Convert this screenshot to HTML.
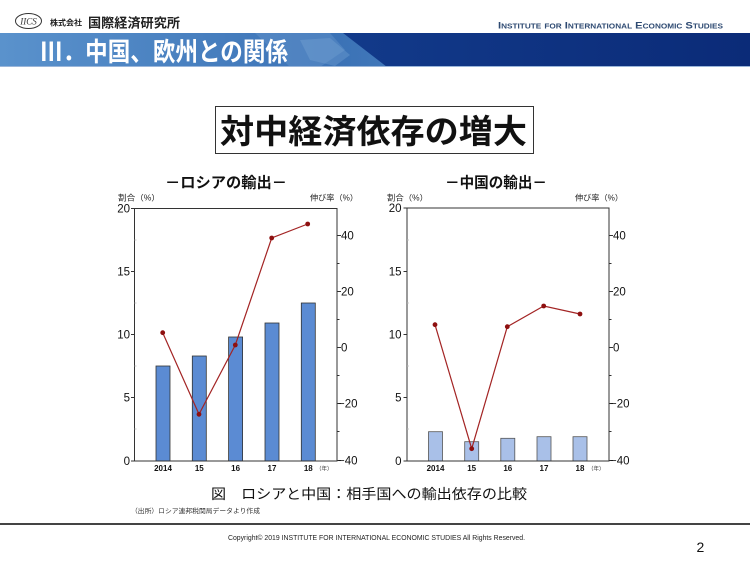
<!DOCTYPE html>
<html>
<head>
<meta charset="utf-8">
<style>
  html,body{margin:0;padding:0;background:#fff;}
  body{width:750px;height:563px;overflow:hidden;}
  svg{display:block;}
  text{font-family:"Liberation Sans","Noto Sans CJK JP",sans-serif;}
</style>
</head>
<body>
<svg width="750" height="563" viewBox="0 0 750 563" xmlns="http://www.w3.org/2000/svg">
  <defs>
    <linearGradient id="bl" x1="0" y1="0" x2="1" y2="0">
      <stop offset="0" stop-color="#5a92cc"/>
      <stop offset="0.45" stop-color="#3b72b6"/>
      <stop offset="0.8" stop-color="#5a8fc7"/>
      <stop offset="1" stop-color="#3f74b6"/>
    </linearGradient>
    <linearGradient id="bd" x1="0" y1="0" x2="1" y2="0">
      <stop offset="0" stop-color="#123a8a"/>
      <stop offset="1" stop-color="#0b2b78"/>
    </linearGradient>
  </defs>

  <!-- header -->
  <ellipse cx="28.5" cy="21" rx="13" ry="7.5" fill="none" stroke="#333" stroke-width="1"/>
  <text x="28.5" y="24.5" font-size="9" text-anchor="middle" fill="#333" style="font-family:'Liberation Serif',serif;font-style:italic">IICS</text>
  <text x="50" y="25.5" font-size="8" font-weight="bold" fill="#222" textLength="32" lengthAdjust="spacingAndGlyphs">株式会社</text>
  <text x="88" y="27.5" font-size="13" font-weight="bold" fill="#222" textLength="92" lengthAdjust="spacingAndGlyphs">国際経済研究所</text>
  <text x="498" y="28.3" font-size="9.5" font-weight="bold" fill="#2e4a72" style="font-variant:small-caps" textLength="225" lengthAdjust="spacingAndGlyphs">Institute for International Economic Studies</text>

  <!-- banner -->
  <rect x="0" y="33" width="750" height="34" fill="url(#bl)"/>
  <path d="M255 33 L330 33 L345 50 L320 67 L290 67 Z" fill="#6f9fd2" opacity="0.35"/>
  <path d="M300 40 L330 38 L350 55 L335 66 L310 60 Z" fill="#84b0dc" opacity="0.3"/>
  <polygon points="343,33 750,33 750,67 387,67" fill="url(#bd)"/>
  <rect x="0" y="66" width="750" height="1" fill="#9ab6da"/>
  <text x="40" y="61" font-size="26" font-weight="bold" fill="#fff" textLength="248" lengthAdjust="spacingAndGlyphs">Ⅲ．中国、欧州との関係</text>

  <!-- main title box -->
  <rect x="215.5" y="106.5" width="318" height="47" fill="#fff" stroke="#333" stroke-width="1"/>
  <text x="220" y="143" font-size="33" font-weight="bold" fill="#111" textLength="307" lengthAdjust="spacingAndGlyphs">対中経済依存の増大</text>

  <!-- subtitles -->
  <text x="165" y="187.5" font-size="15" font-weight="bold" fill="#111" textLength="122" lengthAdjust="spacingAndGlyphs">－ロシアの輸出－</text>
  <text x="445" y="187.5" font-size="15" font-weight="bold" fill="#111" textLength="102" lengthAdjust="spacingAndGlyphs">－中国の輸出－</text>

  <!-- ===== LEFT CHART ===== -->
  <text x="118" y="200.5" font-size="8" fill="#222" textLength="42" lengthAdjust="spacingAndGlyphs">割合（%）</text>
  <text x="310" y="200.5" font-size="8" fill="#222" textLength="48" lengthAdjust="spacingAndGlyphs">伸び率（%）</text>

  <g fill="#5b8bd3" stroke="#333" stroke-width="0.8">
    <rect x="156" y="366" width="14" height="95"/>
    <rect x="192.3" y="356" width="14" height="105"/>
    <rect x="228.6" y="337" width="14" height="124"/>
    <rect x="265" y="323" width="14" height="138"/>
    <rect x="301.3" y="303" width="14" height="158"/>
  </g>
  <rect x="134.5" y="208.5" width="202.5" height="252.5" fill="none" stroke="#333" stroke-width="1"/>
  <g stroke="#333" stroke-width="1">
    <line x1="131" y1="208.5" x2="134.5" y2="208.5"/>
    <line x1="131" y1="271.5" x2="134.5" y2="271.5"/>
    <line x1="131" y1="334.5" x2="134.5" y2="334.5"/>
    <line x1="131" y1="397.5" x2="134.5" y2="397.5"/>
    <line x1="131" y1="461" x2="134.5" y2="461"/>
    <line x1="337" y1="235.5" x2="341" y2="235.5"/>
    <line x1="337" y1="291.5" x2="341" y2="291.5"/>
    <line x1="337" y1="347.5" x2="341" y2="347.5"/>
    <line x1="337" y1="403.5" x2="341" y2="403.5"/>
    <line x1="337" y1="460.5" x2="341" y2="460.5"/>
    <line x1="337" y1="263.5" x2="339.5" y2="263.5"/>
    <line x1="337" y1="319.5" x2="339.5" y2="319.5"/>
    <line x1="337" y1="375.5" x2="339.5" y2="375.5"/>
    <line x1="337" y1="431.5" x2="339.5" y2="431.5"/>
  </g>
  <g stroke="#bbb" stroke-width="0.8">
    <line x1="134.5" y1="240" x2="136.5" y2="240"/>
    <line x1="134.5" y1="303" x2="136.5" y2="303"/>
    <line x1="134.5" y1="366" x2="136.5" y2="366"/>
    <line x1="134.5" y1="429" x2="136.5" y2="429"/>
  </g>
  <g font-size="11.5" fill="#111" text-anchor="end">
    <text x="130" y="212.5">20</text>
    <text x="130" y="275.5">15</text>
    <text x="130" y="338.5">10</text>
    <text x="130" y="401.5">5</text>
    <text x="130" y="465">0</text>
  </g>
  <g font-size="11.5" fill="#111">
    <text x="341" y="239.5">40</text>
    <text x="341" y="295.5">20</text>
    <text x="341" y="351.5">0</text>
    <text x="338" y="407.5">−20</text>
    <text x="338" y="464.5">−40</text>
  </g>
  <g font-size="8" font-weight="bold" fill="#111" text-anchor="middle">
    <text x="163" y="471">2014</text>
    <text x="199.3" y="471">15</text>
    <text x="235.6" y="471">16</text>
    <text x="272" y="471">17</text>
    <text x="308.3" y="471">18</text>
  </g>
  <text x="316" y="470.5" font-size="5.5" fill="#333">（年）</text>
  <polyline points="162.7,332.7 199,414.3 235.3,345 271.7,238 307.7,224" fill="none" stroke="#a32424" stroke-width="1.2"/>
  <g fill="#8e1010">
    <circle cx="162.7" cy="332.7" r="2.4"/>
    <circle cx="199" cy="414.3" r="2.4"/>
    <circle cx="235.3" cy="345" r="2.4"/>
    <circle cx="271.7" cy="238" r="2.4"/>
    <circle cx="307.7" cy="224" r="2.4"/>
  </g>

  <!-- ===== RIGHT CHART ===== -->
  <text x="387" y="200.5" font-size="8" fill="#222" textLength="41" lengthAdjust="spacingAndGlyphs">割合（%）</text>
  <text x="575" y="200.5" font-size="8" fill="#222" textLength="48" lengthAdjust="spacingAndGlyphs">伸び率（%）</text>

  <g fill="#a9c0e8" stroke="#555" stroke-width="0.8">
    <rect x="428.5" y="431.7" width="14" height="29.3"/>
    <rect x="464.7" y="441.7" width="14" height="19.3"/>
    <rect x="500.8" y="438.3" width="14" height="22.7"/>
    <rect x="537" y="436.7" width="14" height="24.3"/>
    <rect x="573" y="436.7" width="14" height="24.3"/>
  </g>
  <rect x="407" y="208" width="202" height="253" fill="none" stroke="#333" stroke-width="1"/>
  <g stroke="#333" stroke-width="1">
    <line x1="403.5" y1="208" x2="407" y2="208"/>
    <line x1="403.5" y1="271.5" x2="407" y2="271.5"/>
    <line x1="403.5" y1="334.5" x2="407" y2="334.5"/>
    <line x1="403.5" y1="397.5" x2="407" y2="397.5"/>
    <line x1="403.5" y1="461" x2="407" y2="461"/>
    <line x1="609" y1="235.5" x2="613" y2="235.5"/>
    <line x1="609" y1="291.5" x2="613" y2="291.5"/>
    <line x1="609" y1="347.5" x2="613" y2="347.5"/>
    <line x1="609" y1="403.5" x2="613" y2="403.5"/>
    <line x1="609" y1="460.5" x2="613" y2="460.5"/>
    <line x1="609" y1="263.5" x2="611.5" y2="263.5"/>
    <line x1="609" y1="319.5" x2="611.5" y2="319.5"/>
    <line x1="609" y1="375.5" x2="611.5" y2="375.5"/>
    <line x1="609" y1="431.5" x2="611.5" y2="431.5"/>
  </g>
  <g stroke="#bbb" stroke-width="0.8">
    <line x1="407" y1="240" x2="409" y2="240"/>
    <line x1="407" y1="303" x2="409" y2="303"/>
    <line x1="407" y1="366" x2="409" y2="366"/>
    <line x1="407" y1="429" x2="409" y2="429"/>
  </g>
  <g font-size="11.5" fill="#111" text-anchor="end">
    <text x="401.5" y="212">20</text>
    <text x="401.5" y="275.5">15</text>
    <text x="401.5" y="338.5">10</text>
    <text x="401.5" y="401.5">5</text>
    <text x="401.5" y="465">0</text>
  </g>
  <g font-size="11.5" fill="#111">
    <text x="613" y="239.5">40</text>
    <text x="613" y="295.5">20</text>
    <text x="613" y="351.5">0</text>
    <text x="610" y="407.5">−20</text>
    <text x="610" y="464.5">−40</text>
  </g>
  <g font-size="8" font-weight="bold" fill="#111" text-anchor="middle">
    <text x="435.5" y="471">2014</text>
    <text x="471.7" y="471">15</text>
    <text x="507.8" y="471">16</text>
    <text x="544" y="471">17</text>
    <text x="580" y="471">18</text>
  </g>
  <text x="588" y="470.5" font-size="5.5" fill="#333">（年）</text>
  <polyline points="435,324.7 471.7,448.7 507.3,326.7 543.7,306 580,314" fill="none" stroke="#a32424" stroke-width="1.2"/>
  <g fill="#8e1010">
    <circle cx="435" cy="324.7" r="2.4"/>
    <circle cx="471.7" cy="448.7" r="2.4"/>
    <circle cx="507.3" cy="326.7" r="2.4"/>
    <circle cx="543.7" cy="306" r="2.4"/>
    <circle cx="580" cy="314" r="2.4"/>
  </g>

  <!-- caption -->
  <text x="211" y="499" font-size="14" fill="#111" textLength="316" lengthAdjust="spacingAndGlyphs">図　ロシアと中国：相手国への輸出依存の比較</text>
  <text x="131" y="513" font-size="6.5" fill="#333" textLength="129" lengthAdjust="spacingAndGlyphs">（出所）ロシア連邦税関局データより作成</text>

  <!-- footer -->
  <rect x="0" y="523" width="750" height="2" fill="#444"/>
  <text x="228" y="540" font-size="7" fill="#222" textLength="297" lengthAdjust="spacingAndGlyphs">Copyright© 2019 INSTITUTE FOR INTERNATIONAL ECONOMIC STUDIES All Rights Reserved.</text>
  <text x="696.5" y="552" font-size="14" fill="#111">2</text>
</svg>
</body>
</html>
